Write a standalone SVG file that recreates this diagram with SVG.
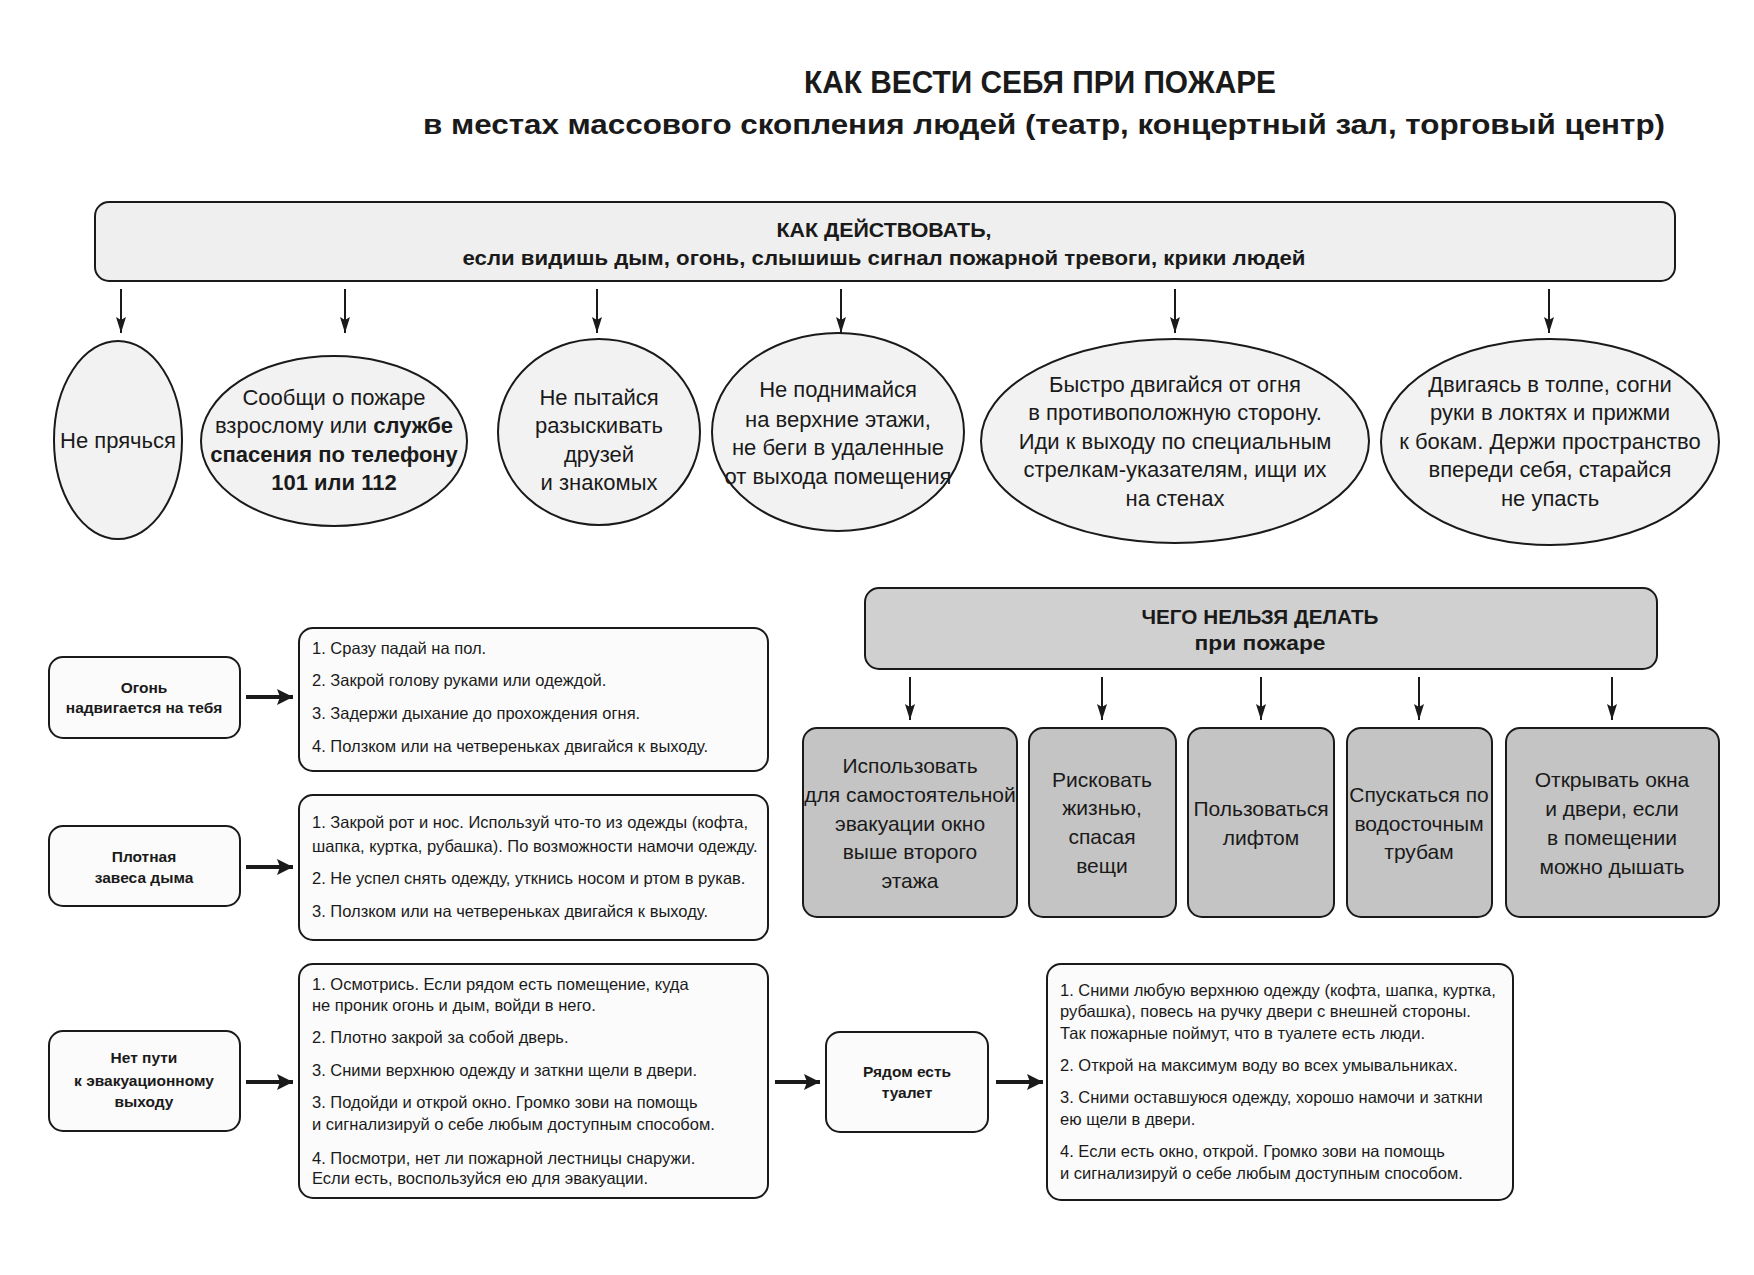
<svg xmlns="http://www.w3.org/2000/svg" width="1754" height="1275" viewBox="0 0 1754 1275">
<style>
text{font-family:"Liberation Sans",Arial,sans-serif;fill:#1a1a1a}
.t1{font-size:31px;font-weight:bold;text-anchor:middle}
.t2{font-size:28px;font-weight:bold;text-anchor:middle}
.hd{font-size:21px;font-weight:bold;text-anchor:middle}
.el{font-size:22px;text-anchor:middle}
.b{font-weight:bold}
.gb{font-size:21px;text-anchor:middle}
.sb{font-size:15.5px;font-weight:bold;text-anchor:middle}
.ls{font-size:16.5px}
.box{stroke:#1a1a1a;stroke-width:2}
.light{fill:#efefef}
.ell{fill:#f2f2f2}
.gray{fill:#c4c4c4}
.hgray{fill:#d0d0d0}
.white{fill:#fbfbfb}
.arr{stroke:#1a1a1a;stroke-width:2;fill:none}
.thick{stroke:#1a1a1a;stroke-width:4;fill:none}
</style>
<defs>
<marker id="ah" markerUnits="userSpaceOnUse" markerWidth="16" markerHeight="10" refX="16" refY="5" orient="auto" viewBox="0 0 16 10">
<path d="M0,0 L16,5 L0,10 L3,5 Z" fill="#1a1a1a"/>
</marker>
<marker id="ahd" markerUnits="userSpaceOnUse" markerWidth="16" markerHeight="16" refX="16" refY="8" orient="auto" viewBox="0 0 16 16">
<path d="M0,0 L16,8 L0,16 L3,8 Z" fill="#1a1a1a"/>
</marker>
</defs>
<rect width="1754" height="1275" fill="#ffffff"/>

<g id="title">
<text class="t1" x="1040" y="93" textLength="472" lengthAdjust="spacingAndGlyphs">КАК ВЕСТИ СЕБЯ ПРИ ПОЖАРЕ</text>
<text class="t2" x="1044" y="134" textLength="1242" lengthAdjust="spacingAndGlyphs">в местах массового скопления людей (театр, концертный зал, торговый центр)</text>
</g>

<g id="connectors">
<line class="arr" x1="121" y1="289" x2="121" y2="333" marker-end="url(#ah)"/>
<line class="arr" x1="345" y1="289" x2="345" y2="333" marker-end="url(#ah)"/>
<line class="arr" x1="597" y1="289" x2="597" y2="333" marker-end="url(#ah)"/>
<line class="arr" x1="841" y1="289" x2="841" y2="333" marker-end="url(#ah)"/>
<line class="arr" x1="1175" y1="289" x2="1175" y2="333" marker-end="url(#ah)"/>
<line class="arr" x1="1549" y1="289" x2="1549" y2="333" marker-end="url(#ah)"/>
<line class="arr" x1="910" y1="677" x2="910" y2="720" marker-end="url(#ah)"/>
<line class="arr" x1="1102" y1="677" x2="1102" y2="720" marker-end="url(#ah)"/>
<line class="arr" x1="1261" y1="677" x2="1261" y2="720" marker-end="url(#ah)"/>
<line class="arr" x1="1419" y1="677" x2="1419" y2="720" marker-end="url(#ah)"/>
<line class="arr" x1="1612" y1="677" x2="1612" y2="720" marker-end="url(#ah)"/>
<line class="thick" x1="246" y1="697" x2="293" y2="697" marker-end="url(#ahd)"/>
<line class="thick" x1="246" y1="867" x2="293" y2="867" marker-end="url(#ahd)"/>
<line class="thick" x1="246" y1="1082" x2="293" y2="1082" marker-end="url(#ahd)"/>
<line class="thick" x1="775" y1="1082" x2="820" y2="1082" marker-end="url(#ahd)"/>
<line class="thick" x1="996" y1="1082" x2="1043" y2="1082" marker-end="url(#ahd)"/>
</g>

<g id="how-to-act">
<rect class="box light" x="95" y="202" width="1580" height="79" rx="14"/>
<text class="hd" x="884" y="237" textLength="215" lengthAdjust="spacingAndGlyphs">КАК ДЕЙСТВОВАТЬ,</text>
<text class="hd" x="884" y="265" textLength="843" lengthAdjust="spacingAndGlyphs">если видишь дым, огонь, слышишь сигнал пожарной тревоги, крики людей</text>
</g>

<g id="e1">
<ellipse class="box ell" cx="118" cy="440" rx="64" ry="99"/>
<text class="el" x="118" y="448">Не прячься</text>
</g>
<g id="e2">
<ellipse class="box ell" cx="334" cy="441" rx="133" ry="85"/>
<text class="el" x="334" y="405">Сообщи о пожаре</text>
<text class="el" x="334" y="433">взрослому или <tspan class="b">службе</tspan></text>
<text class="el b" x="334" y="462">спасения по телефону</text>
<text class="el b" x="334" y="490">101 или 112</text>
</g>
<g id="e3">
<ellipse class="box ell" cx="599" cy="432" rx="101" ry="93"/>
<text class="el" x="599" y="405">Не пытайся</text>
<text class="el" x="599" y="433">разыскивать</text>
<text class="el" x="599" y="462">друзей</text>
<text class="el" x="599" y="490">и знакомых</text>
</g>
<g id="e4">
<ellipse class="box ell" cx="838" cy="432" rx="126" ry="99"/>
<text class="el" x="838" y="397">Не поднимайся</text>
<text class="el" x="838" y="427">на верхние этажи,</text>
<text class="el" x="838" y="455">не беги в удаленные</text>
<text class="el" x="838" y="484">от выхода помещения</text>
</g>
<g id="e5">
<ellipse class="box ell" cx="1175" cy="441" rx="194" ry="102"/>
<text class="el" x="1175" y="392">Быстро двигайся от огня</text>
<text class="el" x="1175" y="420">в противоположную сторону.</text>
<text class="el" x="1175" y="449">Иди к выходу по специальным</text>
<text class="el" x="1175" y="477">стрелкам-указателям, ищи их</text>
<text class="el" x="1175" y="506">на стенах</text>
</g>
<g id="e6">
<ellipse class="box ell" cx="1550" cy="442" rx="169" ry="103"/>
<text class="el" x="1550" y="392">Двигаясь в толпе, согни</text>
<text class="el" x="1550" y="420">руки в локтях и прижми</text>
<text class="el" x="1550" y="449">к бокам. Держи пространство</text>
<text class="el" x="1550" y="477">впереди себя, старайся</text>
<text class="el" x="1550" y="506">не упасть</text>
</g>

<g id="dont-do">
<rect class="box hgray" x="865" y="588" width="792" height="81" rx="14"/>
<text class="hd" x="1260" y="624" textLength="237" lengthAdjust="spacingAndGlyphs">ЧЕГО НЕЛЬЗЯ ДЕЛАТЬ</text>
<text class="hd" x="1260" y="650" textLength="131" lengthAdjust="spacingAndGlyphs">при пожаре</text>
</g>
<g id="g1">
<rect class="box gray" x="803" y="728" width="214" height="189" rx="14"/>
<text class="gb" x="910" y="773">Использовать</text>
<text class="gb" x="910" y="802">для самостоятельной</text>
<text class="gb" x="910" y="831">эвакуации окно</text>
<text class="gb" x="910" y="859">выше второго</text>
<text class="gb" x="910" y="888">этажа</text>
</g>
<g id="g2">
<rect class="box gray" x="1029" y="728" width="147" height="189" rx="14"/>
<text class="gb" x="1102" y="787">Рисковать</text>
<text class="gb" x="1102" y="815">жизнью,</text>
<text class="gb" x="1102" y="844">спасая</text>
<text class="gb" x="1102" y="873">вещи</text>
</g>
<g id="g3">
<rect class="box gray" x="1188" y="728" width="146" height="189" rx="14"/>
<text class="gb" x="1261" y="816">Пользоваться</text>
<text class="gb" x="1261" y="845">лифтом</text>
</g>
<g id="g4">
<rect class="box gray" x="1347" y="728" width="145" height="189" rx="14"/>
<text class="gb" x="1419" y="802">Спускаться по</text>
<text class="gb" x="1419" y="831">водосточным</text>
<text class="gb" x="1419" y="859">трубам</text>
</g>
<g id="g5">
<rect class="box gray" x="1506" y="728" width="213" height="189" rx="14"/>
<text class="gb" x="1612" y="787">Открывать окна</text>
<text class="gb" x="1612" y="816">и двери, если</text>
<text class="gb" x="1612" y="845">в помещении</text>
<text class="gb" x="1612" y="874">можно дышать</text>
</g>

<g id="s1">
<rect class="box white" x="49" y="657" width="191" height="81" rx="14"/>
<text class="sb" x="144" y="693">Огонь</text>
<text class="sb" x="144" y="713">надвигается на тебя</text>
</g>
<g id="l1">
<rect class="box white" x="299" y="628" width="469" height="143" rx="14"/>
<text class="ls" x="312" y="654">1. Сразу падай на пол.</text>
<text class="ls" x="312" y="686">2. Закрой голову руками или одеждой.</text>
<text class="ls" x="312" y="719">3. Задержи дыхание до прохождения огня.</text>
<text class="ls" x="312" y="752">4. Ползком или на четвереньках двигайся к выходу.</text>
</g>
<g id="s2">
<rect class="box white" x="49" y="826" width="191" height="80" rx="14"/>
<text class="sb" x="144" y="862">Плотная</text>
<text class="sb" x="144" y="883">завеса дыма</text>
</g>
<g id="l2">
<rect class="box white" x="299" y="795" width="469" height="145" rx="14"/>
<text class="ls" x="312" y="828">1. Закрой рот и нос. Используй что-то из одежды (кофта,</text>
<text class="ls" x="312" y="852">шапка, куртка, рубашка). По возможности намочи одежду.</text>
<text class="ls" x="312" y="884">2. Не успел снять одежду, уткнись носом и ртом в рукав.</text>
<text class="ls" x="312" y="917">3. Ползком или на четвереньках двигайся к выходу.</text>
</g>
<g id="s3">
<rect class="box white" x="49" y="1031" width="191" height="100" rx="14"/>
<text class="sb" x="144" y="1063">Нет пути</text>
<text class="sb" x="144" y="1086">к эвакуационному</text>
<text class="sb" x="144" y="1107">выходу</text>
</g>
<g id="l3">
<rect class="box white" x="299" y="964" width="469" height="234" rx="14"/>
<text class="ls" x="312" y="990">1. Осмотрись. Если рядом есть помещение, куда</text>
<text class="ls" x="312" y="1011">не проник огонь и дым, войди в него.</text>
<text class="ls" x="312" y="1043">2. Плотно закрой за собой дверь.</text>
<text class="ls" x="312" y="1076">3. Сними верхнюю одежду и заткни щели в двери.</text>
<text class="ls" x="312" y="1108">3. Подойди и открой окно. Громко зови на помощь</text>
<text class="ls" x="312" y="1130">и сигнализируй о себе любым доступным способом.</text>
<text class="ls" x="312" y="1164">4. Посмотри, нет ли пожарной лестницы снаружи.</text>
<text class="ls" x="312" y="1184">Если есть, воспользуйся ею для эвакуации.</text>
</g>
<g id="s4">
<rect class="box white" x="826" y="1032" width="162" height="100" rx="14"/>
<text class="sb" x="907" y="1077">Рядом есть</text>
<text class="sb" x="907" y="1098">туалет</text>
</g>
<g id="l4">
<rect class="box white" x="1047" y="964" width="466" height="236" rx="14"/>
<text class="ls" x="1060" y="996">1. Сними любую верхнюю одежду (кофта, шапка, куртка,</text>
<text class="ls" x="1060" y="1017">рубашка), повесь на ручку двери с внешней стороны.</text>
<text class="ls" x="1060" y="1039">Так пожарные поймут, что в туалете есть люди.</text>
<text class="ls" x="1060" y="1071">2. Открой на максимум воду во всех умывальниках.</text>
<text class="ls" x="1060" y="1103">3. Сними оставшуюся одежду, хорошо намочи и заткни</text>
<text class="ls" x="1060" y="1125">ею щели в двери.</text>
<text class="ls" x="1060" y="1157">4. Если есть окно, открой. Громко зови на помощь</text>
<text class="ls" x="1060" y="1179">и сигнализируй о себе любым доступным способом.</text>
</g>
</svg>
